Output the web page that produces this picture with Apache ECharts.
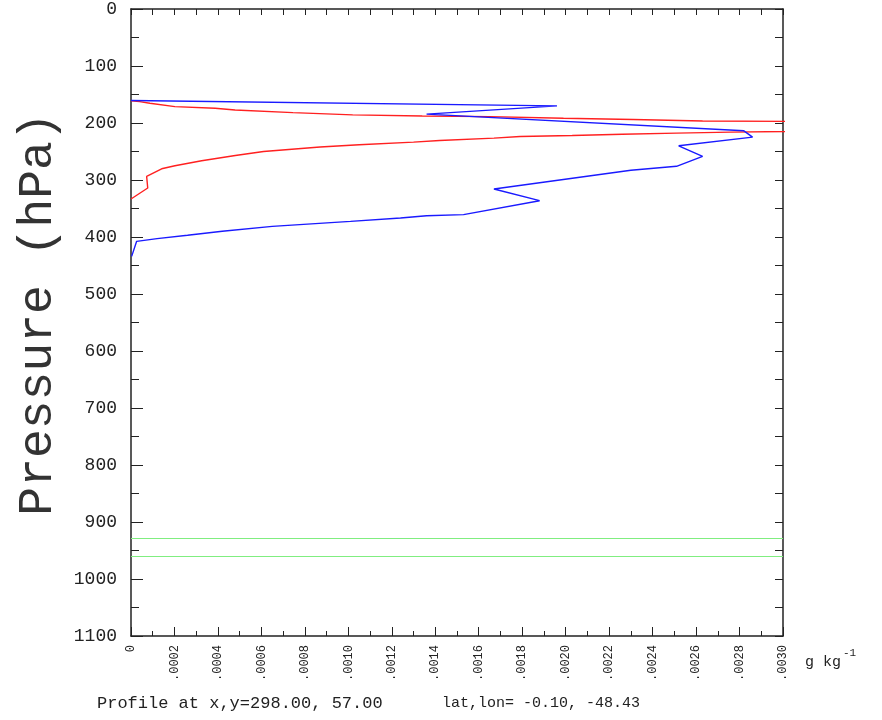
<!DOCTYPE html>
<html>
<head>
<meta charset="utf-8">
<title>Profile</title>
<script src="https://cdn.jsdelivr.net/npm/echarts@6/dist/echarts.min.js"></script>
<style>
html, body { margin: 0; padding: 0; background: #fff; }
#graph { width: 882px; height: 720px; }
</style>
</head>
<body>
<div id="graph"></div>
<script>
// blue profile (pressure hPa / mixing ratio g kg-1), traced top to bottom
var bluePres = [160.5, 170, 184.4, 213.7, 224.7, 240, 258.7, 276, 283, 315.8,
    336.3, 360.8, 362.6, 366.6, 372.6, 381.3, 390, 397, 402.9, 407.6, 434];
var blueMix = [0, 0.00196, 0.00136, 0.00282, 0.00286, 0.00252, 0.00263, 0.00251, 0.0023, 0.00167,
    0.00188, 0.00153, 0.00136, 0.00124, 0.00101, 0.00065, 0.00042, 0.00026, 0.00012, 0.000026, 0.000003];

// red profile, peak runs off the right edge
var redPres = [161, 162.5, 165.4, 171.3, 174.2, 177.2, 181.8, 185.8, 187.6, 188.8,
    191.7, 193.8, 196.5, 203, 216, 217.7, 219.8, 222, 223.7, 226.5,
    230.7, 233.5, 238.2, 242.2, 250, 257, 266.2, 275, 280.3, 293.7,
    314, 333.3];
var redMix = [0, 0.00004, 0.000087, 0.000202, 0.000387, 0.000479, 0.000745, 0.00102, 0.00134, 0.00165,
    0.00199, 0.00231, 0.00263, 0.006, 0.00276, 0.00251, 0.00226, 0.00203, 0.00179, 0.00167,
    0.00142, 0.0013, 0.00105, 0.00087, 0.00061, 0.00048, 0.000325, 0.000202, 0.000141, 0.000072,
    0.000077, 0];

// green horizontal levels
var greenLevels = [929, 960];

var footerLeft = 'Profile at x,y=298.00, 57.00';
var footerRight = 'lat,lon= -0.10, -48.43';

function zip(xs, ys) {
    return xs.map(function (x, i) { return [x, ys[i]]; });
}

var font = '"Liberation Mono", "DejaVu Sans Mono", monospace';
var ink = '#222';

var chart = echarts.init(document.getElementById('graph'));

chart.setOption({
    animation: false,
    backgroundColor: '#fff',
    grid: { left: 131, right: 99, top: 9, bottom: 84 },
    xAxis: [
        {
            type: 'value',
            position: 'bottom',
            min: 0,
            max: 0.003,
            interval: 0.0002,
            splitLine: { show: false },
            axisLine: { onZero: false, lineStyle: { color: ink, width: 1.5 } },
            axisTick: { inside: true, length: 9, lineStyle: { color: ink } },
            minorTick: { show: true, splitNumber: 2, length: 5, lineStyle: { color: ink } },
            axisLabel: {
                rotate: 90,
                margin: 9,
                color: ink,
                fontFamily: font,
                fontSize: 12,
                showMinLabel: true,
                showMaxLabel: true,
                formatter: function (v) {
                    if (v === 0) return '0';
                    return v.toFixed(4).replace(/^0\./, '.');
                }
            }
        },
        {
            type: 'value',
            position: 'top',
            min: 0,
            max: 0.003,
            interval: 0.0001,
            splitLine: { show: false },
            axisLine: { onZero: false, lineStyle: { color: ink, width: 1.5 } },
            axisTick: { inside: true, length: 6, lineStyle: { color: ink } },
            axisLabel: { show: false }
        }
    ],
    yAxis: [
        {
            type: 'value',
            position: 'left',
            inverse: true,
            min: 0,
            max: 1100,
            interval: 100,
            splitLine: { show: false },
            axisLine: { onZero: false, lineStyle: { color: ink, width: 1.5 } },
            axisTick: { inside: true, length: 12, lineStyle: { color: ink } },
            minorTick: { show: true, splitNumber: 2, length: 8, lineStyle: { color: ink } },
            axisLabel: {
                margin: 14,
                color: ink,
                fontFamily: font,
                fontSize: 18,
                showMinLabel: true,
                showMaxLabel: true,
                formatter: function (v) { return String(v); }
            }
        },
        {
            type: 'value',
            position: 'right',
            inverse: true,
            min: 0,
            max: 1100,
            interval: 50,
            splitLine: { show: false },
            axisLine: { onZero: false, lineStyle: { color: ink, width: 1.5 } },
            axisTick: { inside: true, length: 8, lineStyle: { color: ink } },
            axisLabel: { show: false }
        }
    ],
    series: [
        {
            type: 'line',
            data: zip(redMix, redPres),
            showSymbol: false,
            clip: true,
            lineStyle: { color: '#ff2020', width: 1.4 }
        },
        {
            type: 'line',
            data: zip(blueMix, bluePres),
            showSymbol: false,
            clip: true,
            lineStyle: { color: '#1a1aff', width: 1.4 }
        },
        {
            type: 'line',
            data: [],
            markLine: {
                silent: true,
                symbol: 'none',
                label: { show: false },
                lineStyle: { color: '#80ee80', type: 'solid', width: 1.2 },
                data: greenLevels.map(function (p) { return { yAxis: p }; })
            }
        }
    ],
    graphic: [
        {
            type: 'text',
            x: 38,
            y: 314,
            rotation: Math.PI / 2,
            style: {
                text: 'Pressure (hPa)',
                font: '48px ' + font,
                fill: '#333',
                textAlign: 'center',
                textVerticalAlign: 'middle'
            }
        },
        {
            type: 'text',
            x: 805,
            y: 662,
            style: {
                text: 'g kg',
                font: '15px ' + font,
                fill: ink,
                textVerticalAlign: 'middle'
            }
        },
        {
            type: 'text',
            x: 843,
            y: 653,
            style: {
                text: '-1',
                font: '11px ' + font,
                fill: ink,
                textVerticalAlign: 'middle'
            }
        },
        {
            type: 'text',
            x: 97,
            y: 703,
            style: {
                text: footerLeft,
                font: '17px ' + font,
                fill: ink,
                textVerticalAlign: 'middle'
            }
        },
        {
            type: 'text',
            x: 442,
            y: 703,
            style: {
                text: footerRight,
                font: '15px ' + font,
                fill: ink,
                textVerticalAlign: 'middle'
            }
        }
    ]
});
</script>
</body>
</html>
